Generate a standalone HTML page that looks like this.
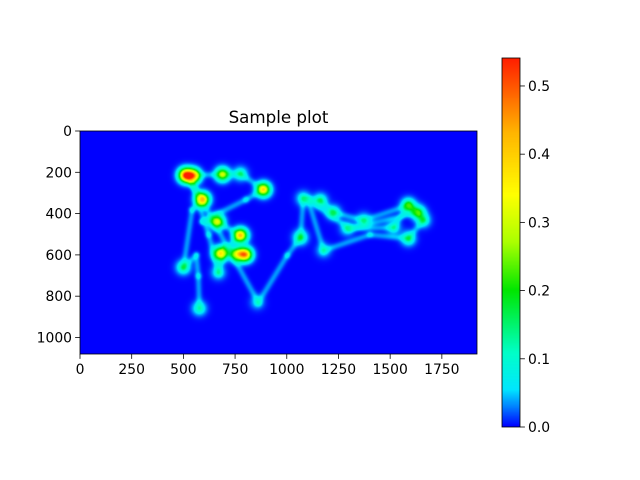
<!DOCTYPE html>
<html><head><meta charset="utf-8"><style>
body{margin:0;background:#fff;width:640px;height:480px;overflow:hidden;position:relative;font-family:"DejaVu Sans","Liberation Sans",sans-serif}
canvas{position:absolute}
svg{position:absolute;left:0;top:0}
</style></head><body>
<canvas id="heat" width="397" height="223" style="left:80px;top:131px"></canvas>
<canvas id="cbar" width="18" height="369" style="left:502px;top:58px"></canvas>
<svg id="ax" width="640" height="480"></svg>
<script>
// fixations (data coords) and peak values
const fixX=[508,546,687,774,885,590,662,774,677,798,760,498,667,575,855,1064,1078,1160,1223,1370,1586,1634,1658,1586,1176,1290,1515];
const fixY=[212,215,208,205,281,329,436,503,591,596,596,658,683,857,828,513,324,334,392,430,358,392,430,518,576,470,465];
const fixW=[0.44,0.38,0.24,0.09,0.32,0.36,0.25,0.35,0.31,0.36,0.24,0.11,0.07,0.09,0.05,0.12,0.08,0.10,0.10,0.08,0.16,0.15,0.09,0.11,0.06,0.07,0.07];
// scanpath
const pathX=[575,570,560,498,540,590,508,687,774,885,800,590,662,774,677,798,700,667,620,540,860,1000,1064,1078,1160,1223,1370,1586,1658,1586,1400,1176,1100,1300,1634,1586,1515,1290];
const pathY=[857,700,600,658,380,329,212,208,205,281,330,436,436,503,591,596,560,683,500,250,828,600,513,324,334,392,430,358,430,518,500,576,330,470,392,358,465,470];
const vmax=0.541;
const cbTicks=[0.0,0.1,0.2,0.3,0.4,0.5];
const xTicks=[0,250,500,750,1000,1250,1500,1750];
const yTicks=[0,200,400,600,800,1000];

const L=80,T=131,W=397,H=223,XM=1920,YM=1080;
const sx=v=>v/XM*W, sy=v=>v/YM*H;
const stopsT=[0,0.05,0.1,0.2,0.37,0.5,0.63,0.8,1];
const stopsC=[[0,0,255],[0,120,255],[0,230,255],[0,255,200],[0,230,0],[170,255,0],[255,255,0],[255,180,0],[255,30,0]];
function cmap(t){t=Math.max(0,Math.min(1,t));let k=0;while(k<stopsT.length-2&&t>stopsT[k+1])k++;
const f=(t-stopsT[k])/(stopsT[k+1]-stopsT[k]);const a=stopsC[k],b=stopsC[k+1];
return [0,1,2].map(i=>Math.round(a[i]+(b[i]-a[i])*f));}
(function(){
const cv=document.getElementById('heat'),ctx=cv.getContext('2d'),img=ctx.createImageData(W,H);
const s=4.8,s2=2*s*s,ps=2.2,ps2=2*ps*ps,pw=0.035;
const fx=fixX.map(sx),fy=fixY.map(sy),px=pathX.map(sx),py=pathY.map(sy);
for(let j=0;j<H;j++)for(let i=0;i<W;i++){
 let v=0;
 for(let k=0;k<fx.length;k++){const dx=i-fx[k],dy=j-fy[k];v+=fixW[k]*Math.exp(-(dx*dx+dy*dy)/s2);}
 let pm=0;
 for(let k=0;k<px.length-1;k++){
  const ax=px[k],ay=py[k],bx=px[k+1],by=py[k+1];const ex=bx-ax,ey=by-ay;const l2=ex*ex+ey*ey||1;
  let t=((i-ax)*ex+(j-ay)*ey)/l2;t=Math.max(0,Math.min(1,t));
  const dx=i-ax-t*ex,dy=j-ay-t*ey;pm+=pw*Math.exp(-(dx*dx+dy*dy)/ps2);
 }
 v+=Math.min(pm,0.065);
 const c=cmap(v/vmax),o=(j*W+i)*4;img.data[o]=c[0];img.data[o+1]=c[1];img.data[o+2]=c[2];img.data[o+3]=255;
}
ctx.putImageData(img,0,0);
const cb=document.getElementById('cbar').getContext('2d');
for(let j=0;j<369;j++){const c=cmap(1-j/368);cb.fillStyle=`rgb(${c[0]},${c[1]},${c[2]})`;cb.fillRect(0,j,18,1);}
const svg=document.getElementById('ax'),NS='http://www.w3.org/2000/svg';
function el(tag,attrs,txt){const e=document.createElementNS(NS,tag);for(const a in attrs)e.setAttribute(a,attrs[a]);if(txt!==undefined)e.textContent=txt;svg.appendChild(e);return e;}
let e=el('rect',{x:L,y:T,width:W,height:H,fill:'none',stroke:'#000','stroke-width':0.8});


e=el('text',{x:L+W/2,y:T-8,'text-anchor':'middle','font-size':'16.7','fill':'#000'},'Sample plot');


xTicks.forEach(v=>{const x=L+sx(v);el('line',{x1:x,x2:x,y1:T+H,y2:T+H+4.9,stroke:'#000','stroke-width':0.8});
 e=el('text',{x:x,y:T+H+20,'text-anchor':'middle','font-size':'13.9'},String(v));
 
 });
yTicks.forEach(v=>{const y=T+sy(v);el('line',{x1:L-4.9,x2:L,y1:y,y2:y,stroke:'#000','stroke-width':0.8});
 e=el('text',{x:L-8,y:y+5,'text-anchor':'end','font-size':'13.9'},String(v));
 
 });
e=el('rect',{x:502,y:58,width:18,height:369,fill:'none',stroke:'#000','stroke-width':0.8});


cbTicks.forEach(v=>{const y=427-v/vmax*369;el('line',{x1:520,x2:524.9,y1:y,y2:y,stroke:'#000','stroke-width':0.8});
 e=el('text',{x:528,y:y+5,'font-size':'13.9'},v.toFixed(1));
 
 });
})();
</script>
</body></html>
